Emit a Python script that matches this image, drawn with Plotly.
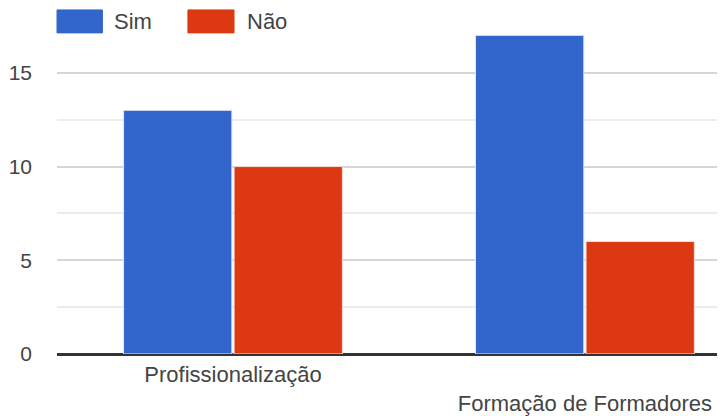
import plotly.graph_objects as go

categories = ["Profissionalização", "Formação de Formadores"]
tick_labels = ["Profissionalização", "<br>Formação de Formadores"]
sim_values = [13, 17]
nao_values = [10, 6]

BLUE = "#3366CC"
RED = "#DC3912"
FONT = "Liberation Sans, Arial, sans-serif"

fig = go.Figure()
fig.add_trace(go.Bar(x=[0, 1], y=sim_values, name="Sim", marker_color=BLUE,
                     marker_line=dict(color="#dfe6f5", width=1)))
fig.add_trace(go.Bar(x=[0, 1], y=nao_values, name="Não", marker_color=RED,
                     marker_line=dict(color="#f5dcd5", width=1)))

# legend drawn as large swatches, like the original
legend_items = [("Sim", BLUE, 0.0, 0.068, 0.083), ("Não", RED, 0.196, 0.265, 0.281)]
for label, color, x0, x1, xt in legend_items:
    fig.add_shape(type="rect", xref="paper", yref="paper", x0=x0, x1=x1,
                  y0=0.979, y1=1.049, fillcolor=color, line=dict(color=color, width=1))
    fig.add_annotation(text=label, xref="paper", yref="paper", x=xt, y=1.014,
                       xanchor="left", yanchor="middle", showarrow=False,
                       font=dict(size=22, color="#444444", family=FONT))

# page body adds an 8px offset, so the figure is sized to the remaining window
fig.update_layout(
    width=717, height=408,
    margin=dict(l=49, r=0, t=18, b=62),
    plot_bgcolor="white", paper_bgcolor="white",
    showlegend=False,
    bargap=0.372, bargroupgap=0.02,
    font=dict(family=FONT, size=21, color="#444444"),
)
fig.update_xaxes(range=[-0.5, 1.398], tickvals=[0, 1], ticktext=tick_labels,
                 tickfont=dict(size=22), showgrid=False, ticks="",
                 ticklabelstandoff=5, automargin=False)
fig.update_yaxes(range=[0, 17.5], tickvals=[0, 5, 10, 15], showgrid=True,
                 gridcolor="#d6d6d6", gridwidth=1.5,
                 minor=dict(dtick=2.5, showgrid=True, gridcolor="#ececec", gridwidth=1.5),
                 zeroline=True, zerolinecolor="#333333", zerolinewidth=3,
                 ticks="", ticklabelstandoff=24, automargin=False)

fig.write_html("out.html")
